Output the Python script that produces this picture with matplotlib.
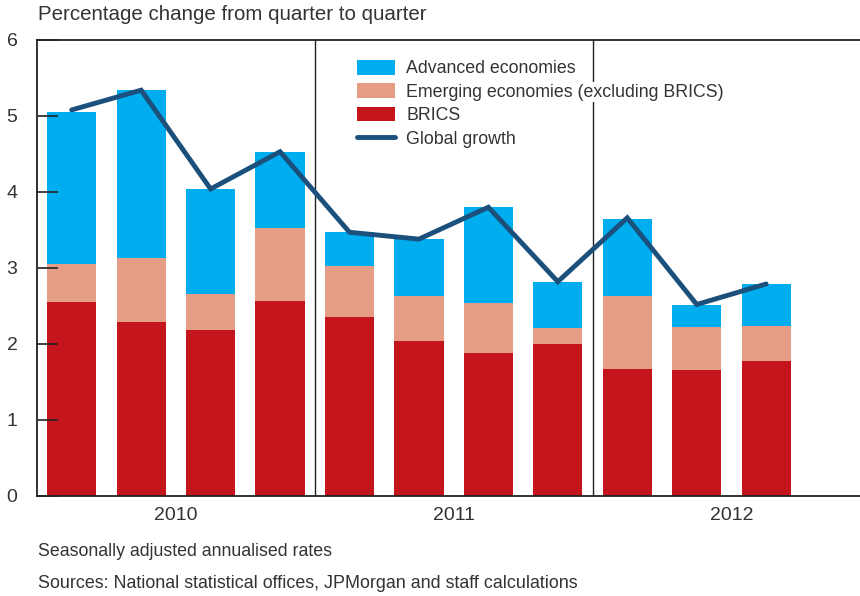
import matplotlib.pyplot as plt
import numpy as np

plt.rcParams['font.family'] = ['Liberation Sans', 'DejaVu Sans']

# quarterly contributions, 2010Q1 - 2012Q3
brics = [2.55, 2.29, 2.18, 2.57, 2.36, 2.04, 1.88, 2.00, 1.67, 1.66, 1.78]
emerging = [0.50, 0.84, 0.48, 0.96, 0.67, 0.59, 0.66, 0.21, 0.96, 0.56, 0.46]
advanced = [2.00, 2.21, 1.38, 1.00, 0.44, 0.75, 1.26, 0.61, 1.01, 0.29, 0.55]
global_growth = [5.08, 5.34, 4.04, 4.53, 3.47, 3.38, 3.80, 2.82, 3.66, 2.52, 2.79]
years = ['2010', '2011', '2012']

txt = '#333333'
c_adv = '#00AEEF'
c_emg = '#E59E85'
c_brics = '#C4141C'
c_line = '#1B4F7C'

fig = plt.figure(figsize=(8.6, 5.96), dpi=100)
ax = fig.add_axes([37 / 860, 1 - 496 / 596, 1 - 37 / 860 + 0.012, 456 / 596])

x = np.arange(len(brics))
w = 0.71
brics = np.array(brics)
emerging = np.array(emerging)
advanced = np.array(advanced)

b1 = ax.bar(x, advanced, w, bottom=brics + emerging, color=c_adv, label='Advanced economies')
b2 = ax.bar(x, emerging, w, bottom=brics, color=c_emg, label='Emerging economies (excluding BRICS)')
b3 = ax.bar(x, brics, w, color=c_brics, label='BRICS')
l1, = ax.plot(x, global_growth, color=c_line, lw=3.5, solid_capstyle='round',
              solid_joinstyle='miter', label='Global growth')

for xv in [3.5, 7.5]:
    ax.axvline(xv, color='#222222', lw=1, zorder=0.5)

ax.set_xlim(-0.5, 11.5)
ax.set_ylim(0, 6)
ax.set_yticks(range(7))
ax.tick_params(axis='y', direction='in', length=15, width=1.2, colors='#222222',
               labelsize=14, labelcolor=txt, pad=14)
ax.set_xticks([1.5, 5.5, 9.5])
ax.set_xticklabels(years)
ax.tick_params(axis='x', length=0, labelsize=14, labelcolor=txt, pad=8)
for s in ['left', 'top', 'bottom']:
    ax.spines[s].set_linewidth(1.3)
    ax.spines[s].set_color('#222222')
ax.spines['right'].set_visible(False)

leg = ax.legend([b1, b2, b3, l1],
                ['Advanced economies', 'Emerging economies (excluding BRICS)', 'BRICS', 'Global growth'],
                loc='upper left', bbox_to_anchor=(0.376, 0.972), frameon=False,
                fontsize=12.8, handlelength=2.1, handleheight=0.9,
                labelspacing=0.33, handletextpad=0.65, borderaxespad=0)
for t in leg.get_texts():
    t.set_color(txt)
leg.get_texts()[1].set_bbox(dict(facecolor='white', edgecolor='none', pad=1))

fig.text(38 / 860, 1 - 15 / 596, 'Percentage change from quarter to quarter',
         fontsize=14.8, color=txt, va='center', ha='left')
fig.text(38 / 860, 1 - 551 / 596, 'Seasonally adjusted annualised rates',
         fontsize=12.8, color=txt, va='center', ha='left')
fig.text(38 / 860, 1 - 583 / 596, 'Sources: National statistical offices, JPMorgan and staff calculations',
         fontsize=12.9, color=txt, va='center', ha='left')

fig.savefig('out.png', dpi=100)
